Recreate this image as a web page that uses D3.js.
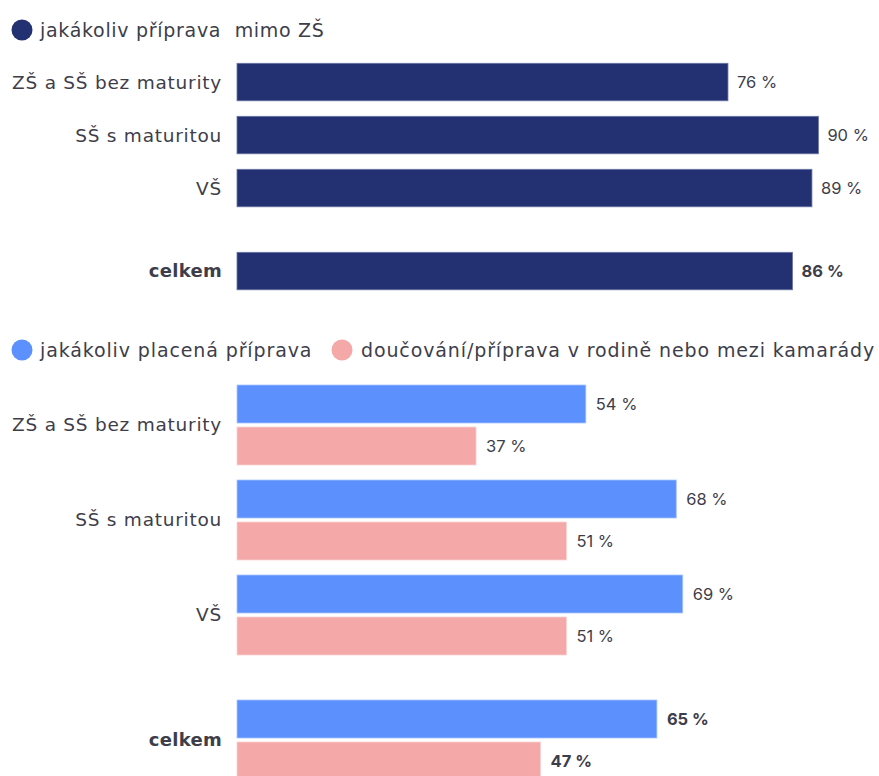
<!DOCTYPE html>
<html>
<head>
<meta charset="utf-8">
<script src="https://cdn.jsdelivr.net/npm/d3@7/dist/d3.min.js"></script>
<style>
  html, body { margin: 0; padding: 0; background: #fff; }
  svg { display: block; }
</style>
</head>
<body>
<svg id="chart" width="879" height="776"></svg>
<script>
// Categories (education of parents) and totals row
const categories = ["ZŠ a SŠ bez maturity", "SŠ s maturitou", "VŠ", "celkem"];

// Panel 1: any preparation outside of primary school
const anyPrep = [76, 90, 89, 86];

// Panel 2: paid preparation vs. tutoring within family / friends
const paidPrep = [54, 68, 69, 65];
const familyPrep = [37, 51, 51, 47];

const legendTop = ["jakákoliv příprava  mimo ZŠ"];
const legendBottom = ["jakákoliv placená příprava", "doučování/příprava v rodině nebo mezi kamarády"];

const colors = {
  navy: "#233173",
  navyEdge: "#6c76a6",
  blue: "#5b90fd",
  blueEdge: "#a9c5fe",
  pink: "#f4a9a8",
  pinkEdge: "#fad3d2",
  text: "#3d3e4a"
};

const svg = d3.select("#chart");
const labelFont = "'DejaVu Sans', sans-serif";
const valueFont = "Inter, sans-serif";

// Category label styling (regular rows vs. bold totals row)
function styleCat(sel) {
  sel.attr("text-anchor", "end")
    .attr("font-family", labelFont)
    .attr("font-size", (d, i) => isTotal(i) ? 18 : 18.5)
    .attr("letter-spacing", (d, i) => isTotal(i) ? 0.3 : 0.75)
    .attr("font-weight", (d, i) => isTotal(i) ? "bold" : "normal")
    .attr("fill", colors.text);
}
function styleLegend(sel, spacing) {
  sel.attr("font-family", labelFont).attr("font-size", 19)
    .attr("letter-spacing", spacing).attr("fill", colors.text)
    .style("white-space", "pre");
}
function styleVal(sel) {
  sel.attr("font-family", valueFont).attr("font-size", 16.5)
    .attr("font-weight", (d, i) => isTotal(i) ? "bold" : "normal")
    .attr("fill", colors.text);
}

// Shared horizontal scale
const x = d3.scaleLinear().domain([0, 100]).range([237, 883]);
const fmt = v => v + " %";

const isTotal = i => categories[i] === "celkem";
// Totals row is pushed down by a fixed extra gap
const totalGap = 30;

// ---------- Panel 1 ----------
const step1 = 53;
const y1 = d3.scaleLinear().domain([0, 1]).range([63.3, 63.3 + step1]);
const row1 = i => y1(i) + (isTotal(i) ? totalGap : 0);
const h1 = 37.5;

const leg1 = svg.append("g");
leg1.append("circle").attr("cx", 22).attr("cy", 30).attr("r", 10.5).attr("fill", colors.navy);
leg1.append("text").attr("x", 40).attr("y", 30).attr("dy", "0.35em")
  .call(styleLegend, 0.7)
  .text(legendTop[0]);

const p1 = svg.append("g");
p1.selectAll("rect").data(anyPrep).join("rect")
  .attr("x", x(0))
  .attr("y", (d, i) => row1(i))
  .attr("width", d => x(d) - x(0))
  .attr("height", h1)
  .attr("fill", colors.navy)
  .attr("stroke", colors.navyEdge).attr("stroke-width", 0.8);

p1.selectAll("text.val").data(anyPrep).join("text").attr("class", "val")
  .attr("x", d => x(d) + 9)
  .attr("y", (d, i) => row1(i) + h1 / 2)
  .attr("dy", "0.35em")
  .call(styleVal)
  .text(fmt);

p1.selectAll("text.cat").data(categories).join("text").attr("class", "cat")
  .attr("x", 222)
  .attr("y", (d, i) => row1(i) + h1 / 2)
  .attr("dy", "0.35em")
  .call(styleCat)
  .text(d => d);

// ---------- Panel 2 ----------
const step2 = 95;
const y2 = d3.scaleLinear().domain([0, 1]).range([385, 385 + step2]);
const row2 = i => y2(i) + (isTotal(i) ? totalGap : 0);
const h2 = 38;
const pairOffset = 42;

const leg2 = svg.append("g");
const legItems = [
  { label: legendBottom[0], color: colors.blue, cx: 22, tx: 40 },
  { label: legendBottom[1], color: colors.pink, cx: 342, tx: 361 }
];
legItems.forEach(it => {
  leg2.append("circle").attr("cx", it.cx).attr("cy", 350).attr("r", 10.5).attr("fill", it.color);
  leg2.append("text").attr("x", it.tx).attr("y", 350).attr("dy", "0.35em")
    .call(styleLegend, 0.88)
    .text(it.label);
});

const series2 = [
  { values: paidPrep, color: colors.blue, edge: colors.blueEdge, offset: 0 },
  { values: familyPrep, color: colors.pink, edge: colors.pinkEdge, offset: pairOffset }
];

const p2 = svg.append("g");
series2.forEach(s => {
  const g = p2.append("g");
  g.selectAll("rect").data(s.values).join("rect")
    .attr("x", x(0))
    .attr("y", (d, i) => row2(i) + s.offset)
    .attr("width", d => x(d) - x(0))
    .attr("height", h2)
    .attr("fill", s.color)
    .attr("stroke", s.edge).attr("stroke-width", 0.8);
  g.selectAll("text").data(s.values).join("text")
    .attr("x", d => x(d) + 10)
    .attr("y", (d, i) => row2(i) + s.offset + h2 / 2)
    .attr("dy", "0.35em")
    .call(styleVal)
    .text(fmt);
});

p2.selectAll("text.cat").data(categories).join("text").attr("class", "cat")
  .attr("x", 222)
  .attr("y", (d, i) => row2(i) + (pairOffset + h2) / 2)
  .attr("dy", "0.35em")
  .call(styleCat)
  .text(d => d);
</script>
</body>
</html>
